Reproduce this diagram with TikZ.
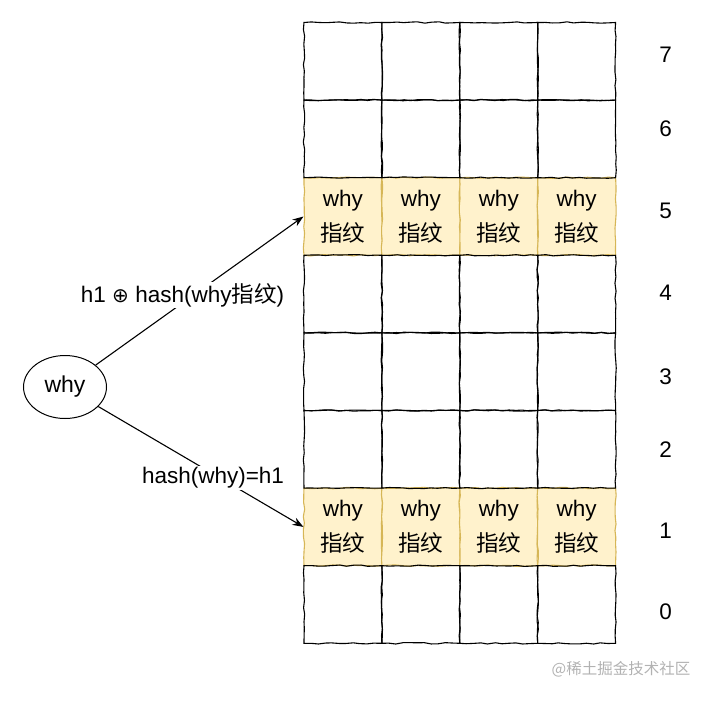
\documentclass[tikz,border=0pt]{standalone}
\usepackage{fontspec}
\setmainfont{Liberation Sans}
\newfontfamily\cjk{Noto Sans CJK SC}
\newfontfamily\symfnt{DejaVu Sans}
\usetikzlibrary{shapes.geometric,arrows.meta,decorations.pathmorphing}
\definecolor{fpfill}{HTML}{FFF2CC}
\definecolor{fpline}{HTML}{D6B656}
\begin{document}
\begin{tikzpicture}[x=1pt,y=-1pt,
  cellbox/.style={minimum width=77.9pt,minimum height=77.6pt,inner sep=0pt,line width=1.1pt,
    decorate,decoration={random steps,segment length=7pt,amplitude=0.7pt}},
  emptycell/.style={cellbox,draw=black},
  fullcell/.style={cellbox,draw=fpline,fill=fpfill,align=center,font=\fontsize{22.5}{35}\selectfont},
  numlabel/.style={font=\fontsize{22.5}{26}\selectfont,inner sep=0pt},
  lab/.style={fill=white,inner sep=1.5pt,font=\fontsize{22.5}{26}\selectfont},
  conn/.style={line width=1.1pt,-{Stealth[length=11pt,width=8pt]}}]
\pgfmathsetseed{7}
\useasboundingbox (0,0) rectangle (727,706);
% yellow rows
\foreach \r in {1,5}{
  \foreach \c in {0,...,3}{
    \node[fullcell] (c-\r-\c) at ({304+77.9*(\c+0.5)},{643.3-77.6*(\r+0.5)}) {why\\{\cjk 指纹}};
  }
}
% empty rows
\foreach \r in {0,2,3,4,6,7}{
  \foreach \c in {0,...,3}{
    \node[emptycell] (c-\r-\c) at ({304+77.9*(\c+0.5)},{643.3-77.6*(\r+0.5)}) {};
  }
}
% row numbers
\foreach \r/\yy in {7/55,6/129,5/211,4/293,3/377,2/450,1/531,0/612}{
  \node[numlabel] (n-\r) at (665.5,\yy) {\r};
}
% source ellipse
\node[ellipse,draw,line width=1pt,minimum width=83pt,minimum height=63pt,inner sep=0pt,
  font=\fontsize{23}{26}\selectfont] (why) at (65,387) {why};
% connectors
\draw[conn] (why) -- (c-5-0.west);
\draw[conn] (why) -- (c-1-0.west);
\node[lab] (l-up) at (182.5,295) {h1 {\symfnt\fontsize{20}{22}\selectfont ⊕} hash(why{\cjk 指纹})};
\node[lab] (l-dn) at (213,478) {hash(why)=h1};
% watermark
\node[text=black!30,inner sep=0pt,font=\cjk\fontsize{15.5}{18}\selectfont] (wm) at (621,669) {@稀土掘金技术社区};
\end{tikzpicture}
\end{document}
